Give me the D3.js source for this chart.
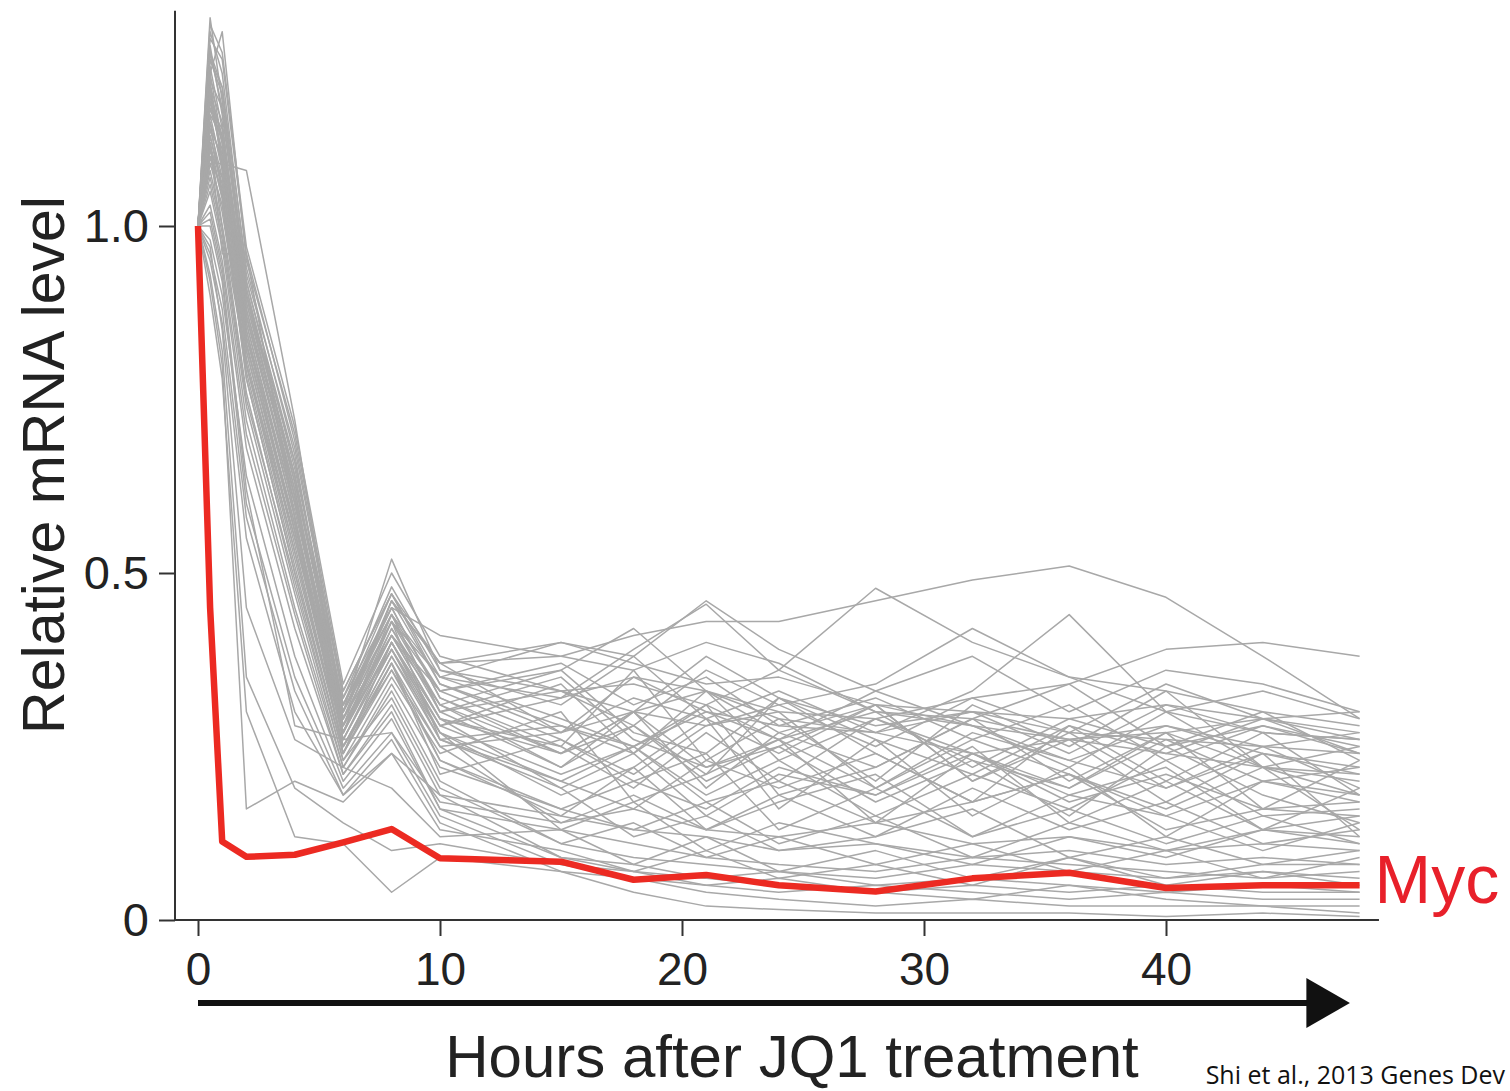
<!DOCTYPE html>
<html><head><meta charset="utf-8">
<script src="https://cdn.jsdelivr.net/npm/d3@7"></script>
<style>
html,body{margin:0;padding:0;background:#fff;overflow:hidden;}
svg{display:block;}
</style></head>
<body>
<svg id="chart" width="1510" height="1091"></svg>
<script>
// ---------- DATA ----------
const hours = [0, 0.5, 1, 2, 4, 6, 8, 10, 15, 18, 21, 24, 28, 32, 36, 40, 44, 48];
const xTicks = [0, 10, 20, 30, 40];
const yTicks = [0, 0.5, 1.0];
const yTickLabels = ["0", "0.5", "1.0"];
const mycLabel = "Myc";
const xTitle = "Hours after JQ1 treatment";
const yTitle = "Relative mRNA level";
const citation = "Shi et al., 2013 Genes Dev";

const myc = [1.0, 0.45, 0.113, 0.091, 0.094, 0.112, 0.131, 0.089, 0.084, 0.058, 0.065, 0.050, 0.041, 0.060, 0.068, 0.046, 0.050, 0.050];

const g01 = [1,1.30,1.18,0.92,0.66,0.30,0.52,0.36,0.33,0.30,0.38,0.32,0.28,0.30,0.27,0.26,0.25,0.24];
const g02 = [1,1.22,1.28,0.95,0.70,0.33,0.47,0.37,0.40,0.38,0.46,0.39,0.33,0.38,0.30,0.36,0.34,0.30];
const g03 = [1,1.18,1.12,0.88,0.62,0.28,0.46,0.37,0.38,0.41,0.43,0.43,0.46,0.49,0.51,0.465,0.38,0.29];
const g04 = [1,1.15,1.05,0.82,0.55,0.27,0.42,0.30,0.33,0.34,0.31,0.36,0.478,0.40,0.35,0.30,0.27,0.26];
const g05 = [1,1.20,1.10,0.85,0.58,0.26,0.40,0.28,0.32,0.39,0.455,0.36,0.30,0.29,0.26,0.24,0.22,0.20];
const g06 = [1,1.12,1.00,0.80,0.52,0.25,0.38,0.26,0.28,0.25,0.30,0.28,0.27,0.33,0.44,0.30,0.22,0.18];
const g07 = [1,1.25,1.20,0.90,0.64,0.31,0.44,0.33,0.36,0.42,0.33,0.29,0.27,0.24,0.26,0.28,0.24,0.22];
const g08 = [1,1.10,1.05,0.78,0.50,0.24,0.36,0.25,0.27,0.30,0.28,0.31,0.34,0.42,0.35,0.33,0.30,0.28];
const g09 = [1,1.16,1.08,0.84,0.60,0.29,0.43,0.35,0.40,0.37,0.34,0.35,0.31,0.30,0.29,0.31,0.29,0.27];
const g10 = [1,1.28,1.22,0.93,0.68,0.32,0.45,0.41,0.38,0.36,0.40,0.37,0.30,0.28,0.26,0.27,0.29,0.26];
const g11 = [1,1.20,1.15,0.87,0.60,0.27,0.44,0.30,0.22,0.30,0.19,0.27,0.31,0.20,0.26,0.17,0.24,0.21];
const g12 = [1,1.14,1.10,0.86,0.58,0.24,0.40,0.28,0.34,0.24,0.31,0.18,0.22,0.29,0.20,0.27,0.16,0.23];
const g13 = [1,1.26,1.16,0.91,0.63,0.30,0.45,0.32,0.25,0.36,0.23,0.29,0.20,0.31,0.25,0.33,0.22,0.25];
const g14 = [1,1.10,1.02,0.80,0.55,0.26,0.39,0.27,0.18,0.22,0.29,0.16,0.26,0.15,0.22,0.12,0.20,0.17];
const g15 = [1,1.24,1.20,0.94,0.67,0.29,0.46,0.34,0.28,0.24,0.33,0.27,0.22,0.29,0.34,0.25,0.30,0.23];
const g16 = [1,1.08,1.00,0.76,0.48,0.23,0.35,0.24,0.30,0.17,0.21,0.26,0.14,0.24,0.18,0.22,0.13,0.19];
const g17 = [1,1.19,1.13,0.89,0.62,0.28,0.42,0.31,0.22,0.28,0.21,0.32,0.24,0.17,0.28,0.20,0.27,0.18];
const g18 = [1,1.13,1.06,0.83,0.57,0.27,0.40,0.29,0.25,0.19,0.27,0.20,0.29,0.23,0.15,0.25,0.18,0.14];
const g19 = [1,1.21,1.17,0.90,0.61,0.30,0.43,0.26,0.19,0.24,0.15,0.21,0.18,0.25,0.14,0.20,0.13,0.15];
const g20 = [1,1.06,0.98,0.74,0.47,0.22,0.34,0.22,0.16,0.20,0.24,0.13,0.19,0.12,0.18,0.15,0.10,0.14];
const g21 = [1,1.17,1.11,0.86,0.59,0.29,0.41,0.33,0.26,0.21,0.28,0.30,0.19,0.26,0.21,0.16,0.22,0.13];
const g22 = [1,1.23,1.14,0.88,0.60,0.31,0.44,0.30,0.35,0.26,0.22,0.25,0.31,0.20,0.27,0.19,0.24,0.12];
const g23 = [1,1.12,1.04,0.81,0.53,0.25,0.37,0.25,0.14,0.18,0.13,0.18,0.12,0.19,0.13,0.17,0.11,0.13];
const g24 = [1,1.27,1.24,0.96,0.69,0.32,0.48,0.36,0.31,0.38,0.29,0.33,0.27,0.30,0.24,0.31,0.27,0.26];
const g25 = [1,1.09,1.03,0.79,0.51,0.24,0.37,0.23,0.16,0.13,0.17,0.11,0.15,0.09,0.14,0.10,0.13,0.11];
const g26 = [1,1.15,1.09,0.85,0.56,0.26,0.39,0.28,0.21,0.25,0.17,0.20,0.14,0.17,0.21,0.13,0.16,0.15];
const g27 = [1,1.11,1.07,0.82,0.54,0.25,0.38,0.27,0.13,0.17,0.10,0.14,0.11,0.08,0.12,0.09,0.13,0.12];
const g28 = [1,1.19,1.09,0.84,0.57,0.28,0.41,0.29,0.19,0.12,0.15,0.10,0.12,0.16,0.09,0.12,0.08,0.10];
const g29 = [1,1.05,0.97,0.72,0.45,0.22,0.33,0.20,0.11,0.14,0.09,0.12,0.08,0.11,0.07,0.10,0.06,0.09];
const g30 = [1,1.02,0.94,0.68,0.42,0.21,0.31,0.18,0.09,0.07,0.10,0.06,0.08,0.05,0.09,0.06,0.08,0.08];
const g31 = [1,1.07,0.99,0.75,0.49,0.23,0.32,0.19,0.11,0.09,0.08,0.07,0.06,0.08,0.07,0.06,0.07,0.06];
const g32 = [1,0.98,0.90,0.64,0.38,0.20,0.29,0.16,0.09,0.08,0.06,0.05,0.04,0.05,0.04,0.05,0.04,0.04];
const g33 = [1,1.00,0.92,0.60,0.35,0.19,0.27,0.15,0.08,0.06,0.04,0.03,0.02,0.03,0.02,0.02,0.02,0.01];
const g34 = [1,0.96,0.88,0.58,0.33,0.18,0.26,0.14,0.07,0.04,0.02,0.015,0.01,0.01,0.01,0.005,0.01,0.005];
const g35 = [1,0.95,0.86,0.55,0.30,0.18,0.24,0.13,0.10,0.07,0.05,0.06,0.04,0.03,0.05,0.03,0.02,0.02];
const g36 = [1,0.92,0.80,0.16,0.20,0.17,0.24,0.18,0.15,0.13,0.12,0.10,0.11,0.09,0.10,0.08,0.09,0.08];
const g37 = [1,0.90,0.78,0.30,0.12,0.11,0.04,0.09,0.07,0.06,0.05,0.04,0.05,0.04,0.03,0.04,0.03,0.03];
const g38 = [1,0.93,0.82,0.35,0.19,0.14,0.10,0.11,0.08,0.07,0.06,0.07,0.05,0.06,0.05,0.04,0.05,0.04];
const g39 = [1,0.97,0.85,0.45,0.26,0.22,0.19,0.12,0.13,0.11,0.09,0.08,0.07,0.09,0.08,0.07,0.06,0.07];
const g40 = [1,1.01,0.93,0.62,0.28,0.26,0.27,0.17,0.14,0.16,0.13,0.12,0.14,0.11,0.12,0.10,0.11,0.10];
const g41 = [1,1.29,1.25,0.97,0.71,0.34,0.50,0.38,0.33,0.28,0.36,0.31,0.25,0.32,0.27,0.34,0.29,0.30];
const g42 = [1,1.24,1.19,0.92,0.65,0.33,0.47,0.34,0.27,0.35,0.30,0.26,0.33,0.28,0.22,0.30,0.33,0.29];
const g43 = [1,1.16,1.13,0.87,0.61,0.27,0.43,0.31,0.36,0.27,0.24,0.32,0.26,0.21,0.28,0.24,0.29,0.24];
const g44 = [1,1.09,1.09,1.08,0.72,0.29,0.41,0.29,0.24,0.30,0.22,0.26,0.19,0.27,0.23,0.19,0.25,0.19];
const g45 = [1,1.12,0.96,0.96,0.58,0.28,0.39,0.26,0.20,0.25,0.18,0.23,0.15,0.21,0.16,0.23,0.15,0.16];
const g46 = [1,1.21,1.08,0.89,0.63,0.31,0.45,0.32,0.24,0.30,0.33,0.23,0.29,0.24,0.19,0.27,0.22,0.21];
const g47 = [1,1.13,1.05,0.80,0.53,0.25,0.36,0.23,0.15,0.22,0.13,0.17,0.21,0.12,0.16,0.11,0.15,0.11];
const g48 = [1,1.18,1.10,0.83,0.56,0.27,0.40,0.27,0.20,0.16,0.23,0.19,0.24,0.17,0.21,0.15,0.20,0.18];
const g49 = [1,1.22,1.12,0.90,0.64,0.30,0.44,0.35,0.32,0.35,0.33,0.30,0.29,0.32,0.34,0.39,0.40,0.38];
const g50 = [1,1.17,1.14,0.90,0.66,0.31,0.47,0.35,0.29,0.25,0.31,0.26,0.30,0.22,0.29,0.25,0.28,0.24];
const g51 = [1,1.11,1.04,0.78,0.50,0.24,0.37,0.21,0.26,0.20,0.16,0.22,0.18,0.24,0.17,0.21,0.16,0.17];
const g52 = [1,1.25,1.17,0.91,0.64,0.30,0.46,0.37,0.27,0.32,0.29,0.24,0.31,0.28,0.23,0.28,0.25,0.27];
const g53 = [1,1.03,0.95,0.70,0.44,0.21,0.30,0.16,0.13,0.08,0.12,0.07,0.10,0.06,0.09,0.05,0.07,0.05];
const g54 = [1,1.14,1.07,0.83,0.56,0.27,0.41,0.31,0.24,0.28,0.20,0.25,0.17,0.23,0.19,0.26,0.20,0.22];
const g55 = [1,1.20,1.12,0.87,0.61,0.29,0.43,0.33,0.37,0.31,0.35,0.28,0.32,0.26,0.31,0.23,0.28,0.25];

const genes = [g01,g02,g03,g04,g05,g06,g07,g08,g09,g10,g11,g12,g13,g14,g15,g16,g17,g18,g19,g20,
  g21,g22,g23,g24,g25,g26,g27,g28,g29,g30,g31,g32,g33,g34,g35,g36,g37,g38,g39,g40,
  g41,g42,g43,g44,g45,g46,g47,g48,g49,g50,g51,g52,g53,g54,g55];

// ---------- LAYOUT ----------
const svg = d3.select("#chart");
const axisX0 = 175, axisY0 = 920;
const x = d3.scaleLinear().domain([0, 40]).range([198, 1166]);
const y = d3.scaleLinear().domain([0, 1.0]).range([920, 226]);
const font = "'Liberation Sans', Arial, Helvetica, sans-serif";

const line = d3.line().x((d, i) => x(hours[i])).y(d => y(d));

// gray genes
svg.append("g").selectAll("path").data(genes).join("path")
  .attr("d", line)
  .attr("fill", "none")
  .attr("stroke", "#a8a8a8")
  .attr("stroke-width", 1.5)
  .attr("stroke-linejoin", "round");

// Myc
svg.append("path").datum(myc)
  .attr("d", line)
  .attr("fill", "none")
  .attr("stroke", "#ec2a22")
  .attr("stroke-width", 6.5)
  .attr("stroke-linejoin", "round");

svg.append("text")
  .attr("x", x(hours[hours.length - 1]) + 15)
  .attr("y", y(myc[myc.length - 1]) + 18)
  .attr("font-family", font).attr("font-size", 68)
  .attr("fill", "#e8202a")
  .text(mycLabel);

// axes
svg.append("line")
  .attr("x1", axisX0).attr("x2", axisX0)
  .attr("y1", y(0)).attr("y2", y(1.31))
  .attr("stroke", "#333").attr("stroke-width", 2);
svg.append("line")
  .attr("x1", axisX0).attr("x2", x(48.8))
  .attr("y1", y(0)).attr("y2", y(0))
  .attr("stroke", "#333").attr("stroke-width", 2.2);

const yAxis = d3.axisLeft(y).tickValues(yTicks)
  .tickFormat((d, i) => yTickLabels[i]).tickSize(16).tickPadding(10).tickSizeOuter(0);
const gy = svg.append("g").attr("transform", `translate(${axisX0},0)`).call(yAxis);
gy.select(".domain").remove();
gy.selectAll("line").attr("stroke", "#333").attr("stroke-width", 2);
gy.selectAll("text").attr("font-family", font).attr("font-size", 47).attr("fill", "#222");

const xAxis = d3.axisBottom(x).tickValues(xTicks).tickSize(16).tickPadding(16).tickSizeOuter(0);
const gx = svg.append("g").attr("transform", `translate(0,${axisY0})`).call(xAxis);
gx.select(".domain").remove();
gx.selectAll("line").attr("stroke", "#333").attr("stroke-width", 2);
gx.selectAll("text").attr("font-family", font).attr("font-size", 46).attr("fill", "#222");

// arrow
const arrowY = 1003;
svg.append("line")
  .attr("x1", x(0)).attr("x2", x(46))
  .attr("y1", arrowY).attr("y2", arrowY)
  .attr("stroke", "#111").attr("stroke-width", 6);
svg.append("path")
  .attr("d", `M${x(45.8)},${arrowY - 25} L${x(47.6)},${arrowY} L${x(45.8)},${arrowY + 25} Z`)
  .attr("fill", "#111");

// titles
svg.append("text")
  .attr("x", 792).attr("y", 1077)
  .attr("text-anchor", "middle")
  .attr("font-family", font).attr("font-size", 60).attr("fill", "#222")
  .text(xTitle);

svg.append("text")
  .attr("transform", `translate(64,465) rotate(-90)`)
  .attr("text-anchor", "middle")
  .attr("font-family", font).attr("font-size", 59).attr("fill", "#222")
  .text(yTitle);

svg.append("text")
  .attr("x", 1505).attr("y", 1084)
  .attr("text-anchor", "end")
  .attr("font-family", "'Open Sans', 'Noto Sans', sans-serif").attr("font-size", 25).attr("fill", "#111")
  .text(citation);
</script>
</body></html>
